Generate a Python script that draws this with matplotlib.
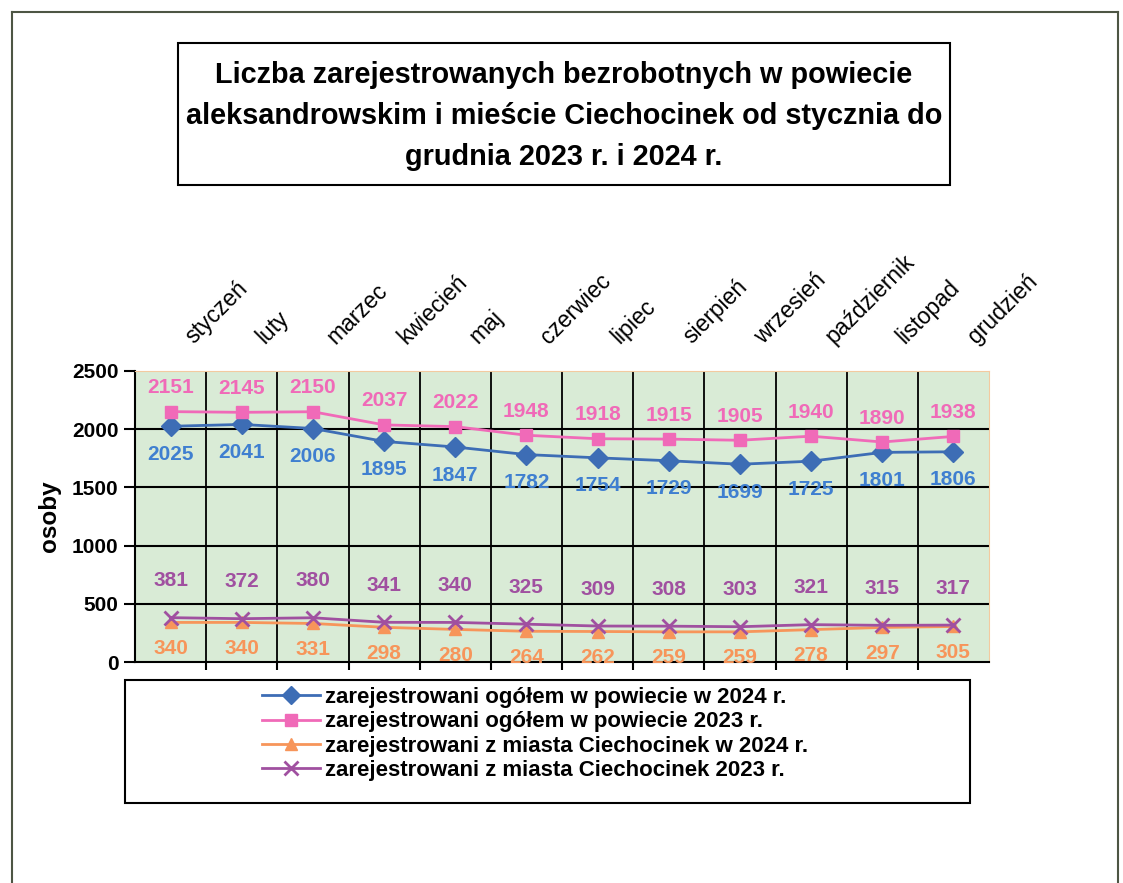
import numpy as np
import matplotlib.pyplot as plt
from matplotlib.patches import Rectangle
from matplotlib.lines import Line2D
from matplotlib.transforms import blended_transform_factory

months = ["styczeń", "luty", "marzec", "kwiecień", "maj", "czerwiec", "lipiec",
          "sierpień", "wrzesień", "październik", "listopad", "grudzień"]
pow_2024 = [2025, 2041, 2006, 1895, 1847, 1782, 1754, 1729, 1699, 1725, 1801, 1806]
pow_2023 = [2151, 2145, 2150, 2037, 2022, 1948, 1918, 1915, 1905, 1940, 1890, 1938]
ciech_2024 = [340, 340, 331, 298, 280, 264, 262, 259, 259, 278, 297, 305]
ciech_2023 = [381, 372, 380, 341, 340, 325, 309, 308, 303, 321, 315, 317]
labels = ["zarejestrowani ogółem w powiecie w 2024 r.",
          "zarejestrowani ogółem w powiecie 2023 r.",
          "zarejestrowani z miasta Ciechocinek w 2024 r.",
          "zarejestrowani z miasta Ciechocinek 2023 r."]
title = ("Liczba zarejestrowanych bezrobotnych w powiecie\n"
         "aleksandrowskim i mieście Ciechocinek od stycznia do\n"
         "grudnia 2023 r. i 2024 r.")

plt.rcParams['font.family'] = ['Liberation Sans', 'DejaVu Sans']

blue = '#3d6db5'
blue_t = '#3f7fd0'
pink = '#f06ab8'
orange = '#f7955a'
purple = '#a050a0'

W, H = 1123, 883
fig = plt.figure(figsize=(W/100, H/100), dpi=100)
fig.patch.set_facecolor('white')

# outer frame
frame_c = '#4d5544'
fig.add_artist(Line2D([12/W, 12/W], [0, 1-12/H], color=frame_c, lw=1.5))
fig.add_artist(Line2D([12/W, 1118/W], [1-12/H, 1-12/H], color=frame_c, lw=1.5))
fig.add_artist(Line2D([1118/W, 1118/W], [0, 1-12/H], color=frame_c, lw=1.5))

# title box
fig.add_artist(Rectangle((178/W, 1-185/H), (950-178)/W, (185-43)/H,
                         transform=fig.transFigure, fill=False, ec='black', lw=1.5))
fig.text(564/W, 1-116/H, title, ha='center', va='center', fontsize=20.8,
         fontweight='bold', linespacing=1.58)

ax = fig.add_axes([135/W, 1-662/H, (989-135)/W, (662-371)/H])
ax.set_facecolor('#d9ebd6')
x = np.arange(len(months))

ax.plot(x, pow_2024, color=blue, lw=2, marker='D', ms=10, mec=blue, mfc=blue, zorder=5)
ax.plot(x, pow_2023, color=pink, lw=2, marker='s', ms=9, mec=pink, mfc=pink, zorder=5)
ax.plot(x, ciech_2024, color=orange, lw=2, marker='^', ms=9, mec=orange, mfc=orange, zorder=5)
ax.plot(x, ciech_2023, color=purple, lw=2, marker='x', ms=10, mew=2, zorder=6)

for i in range(len(months)):
    ax.annotate(str(pow_2023[i]), (x[i], pow_2023[i]), xytext=(0, 24), textcoords='offset pixels',
                ha='center', va='center', color=pink, fontsize=15, fontweight='bold')
    ax.annotate(str(pow_2024[i]), (x[i], pow_2024[i]), xytext=(0, -28), textcoords='offset pixels',
                ha='center', va='center', color=blue_t, fontsize=15, fontweight='bold')
    ax.annotate(str(ciech_2023[i]), (x[i], ciech_2023[i]), xytext=(0, 37), textcoords='offset pixels',
                ha='center', va='center', color=purple, fontsize=15, fontweight='bold')
    ax.annotate(str(ciech_2024[i]), (x[i], ciech_2024[i]), xytext=(0, -26), textcoords='offset pixels',
                ha='center', va='center', color=orange, fontsize=15, fontweight='bold')

ax.set_xlim(-0.5, 11.5)
ax.set_ylim(0, 2500)
ax.set_yticks([0, 500, 1000, 1500, 2000, 2500])
ax.set_yticklabels(['0', '500', '1000', '1500', '2000', '2500'], fontsize=15, fontweight='bold')
ax.tick_params(axis='y', direction='out', length=8, width=1.5, pad=4)
ax.set_xticks(np.arange(0.5, 11.5, 1.0))
ax.set_xticklabels([])
ax.tick_params(axis='x', direction='out', length=6, width=1.5)
for yv in [500, 1000, 1500, 2000]:
    ax.axhline(yv, color='black', lw=1.5, zorder=1)
for xv in np.arange(0.5, 11.5, 1.0):
    ax.axvline(xv, color='black', lw=1.3, zorder=1)
ax.spines['left'].set_linewidth(1.5)
ax.spines['bottom'].set_linewidth(1.5)
ax.spines['top'].set_color('#f3caa0')
ax.spines['right'].set_color('#f3caa0')
ax.set_ylabel('osoby', fontsize=17.5, fontweight='bold', labelpad=8)

trans = blended_transform_factory(ax.transData, ax.transAxes)
for i, m in enumerate(months):
    ax.text(x[i] + 0.32, 1.09, m, transform=trans, rotation=45, rotation_mode='anchor',
            ha='left', va='baseline', fontsize=16.5)

# legend
fig.add_artist(Rectangle((125/W, 1-803/H), (970-125)/W, (803-680)/H,
                         transform=fig.transFigure, fill=False, ec='black', lw=1.5))
handles = [Line2D([], [], color=blue, lw=2, marker='D', ms=9),
           Line2D([], [], color=pink, lw=2, marker='s', ms=9),
           Line2D([], [], color=orange, lw=2, marker='^', ms=9),
           Line2D([], [], color=purple, lw=2, marker='x', ms=10, mew=2)]
fig.legend(handles, labels, loc='center', bbox_to_anchor=(535/W, 1-734/H),
           frameon=False, prop={'size': 16, 'weight': 'bold'}, handlelength=2.6,
           handletextpad=0.2, labelspacing=0.15, borderpad=0)

fig.savefig('out.png', dpi=100)
